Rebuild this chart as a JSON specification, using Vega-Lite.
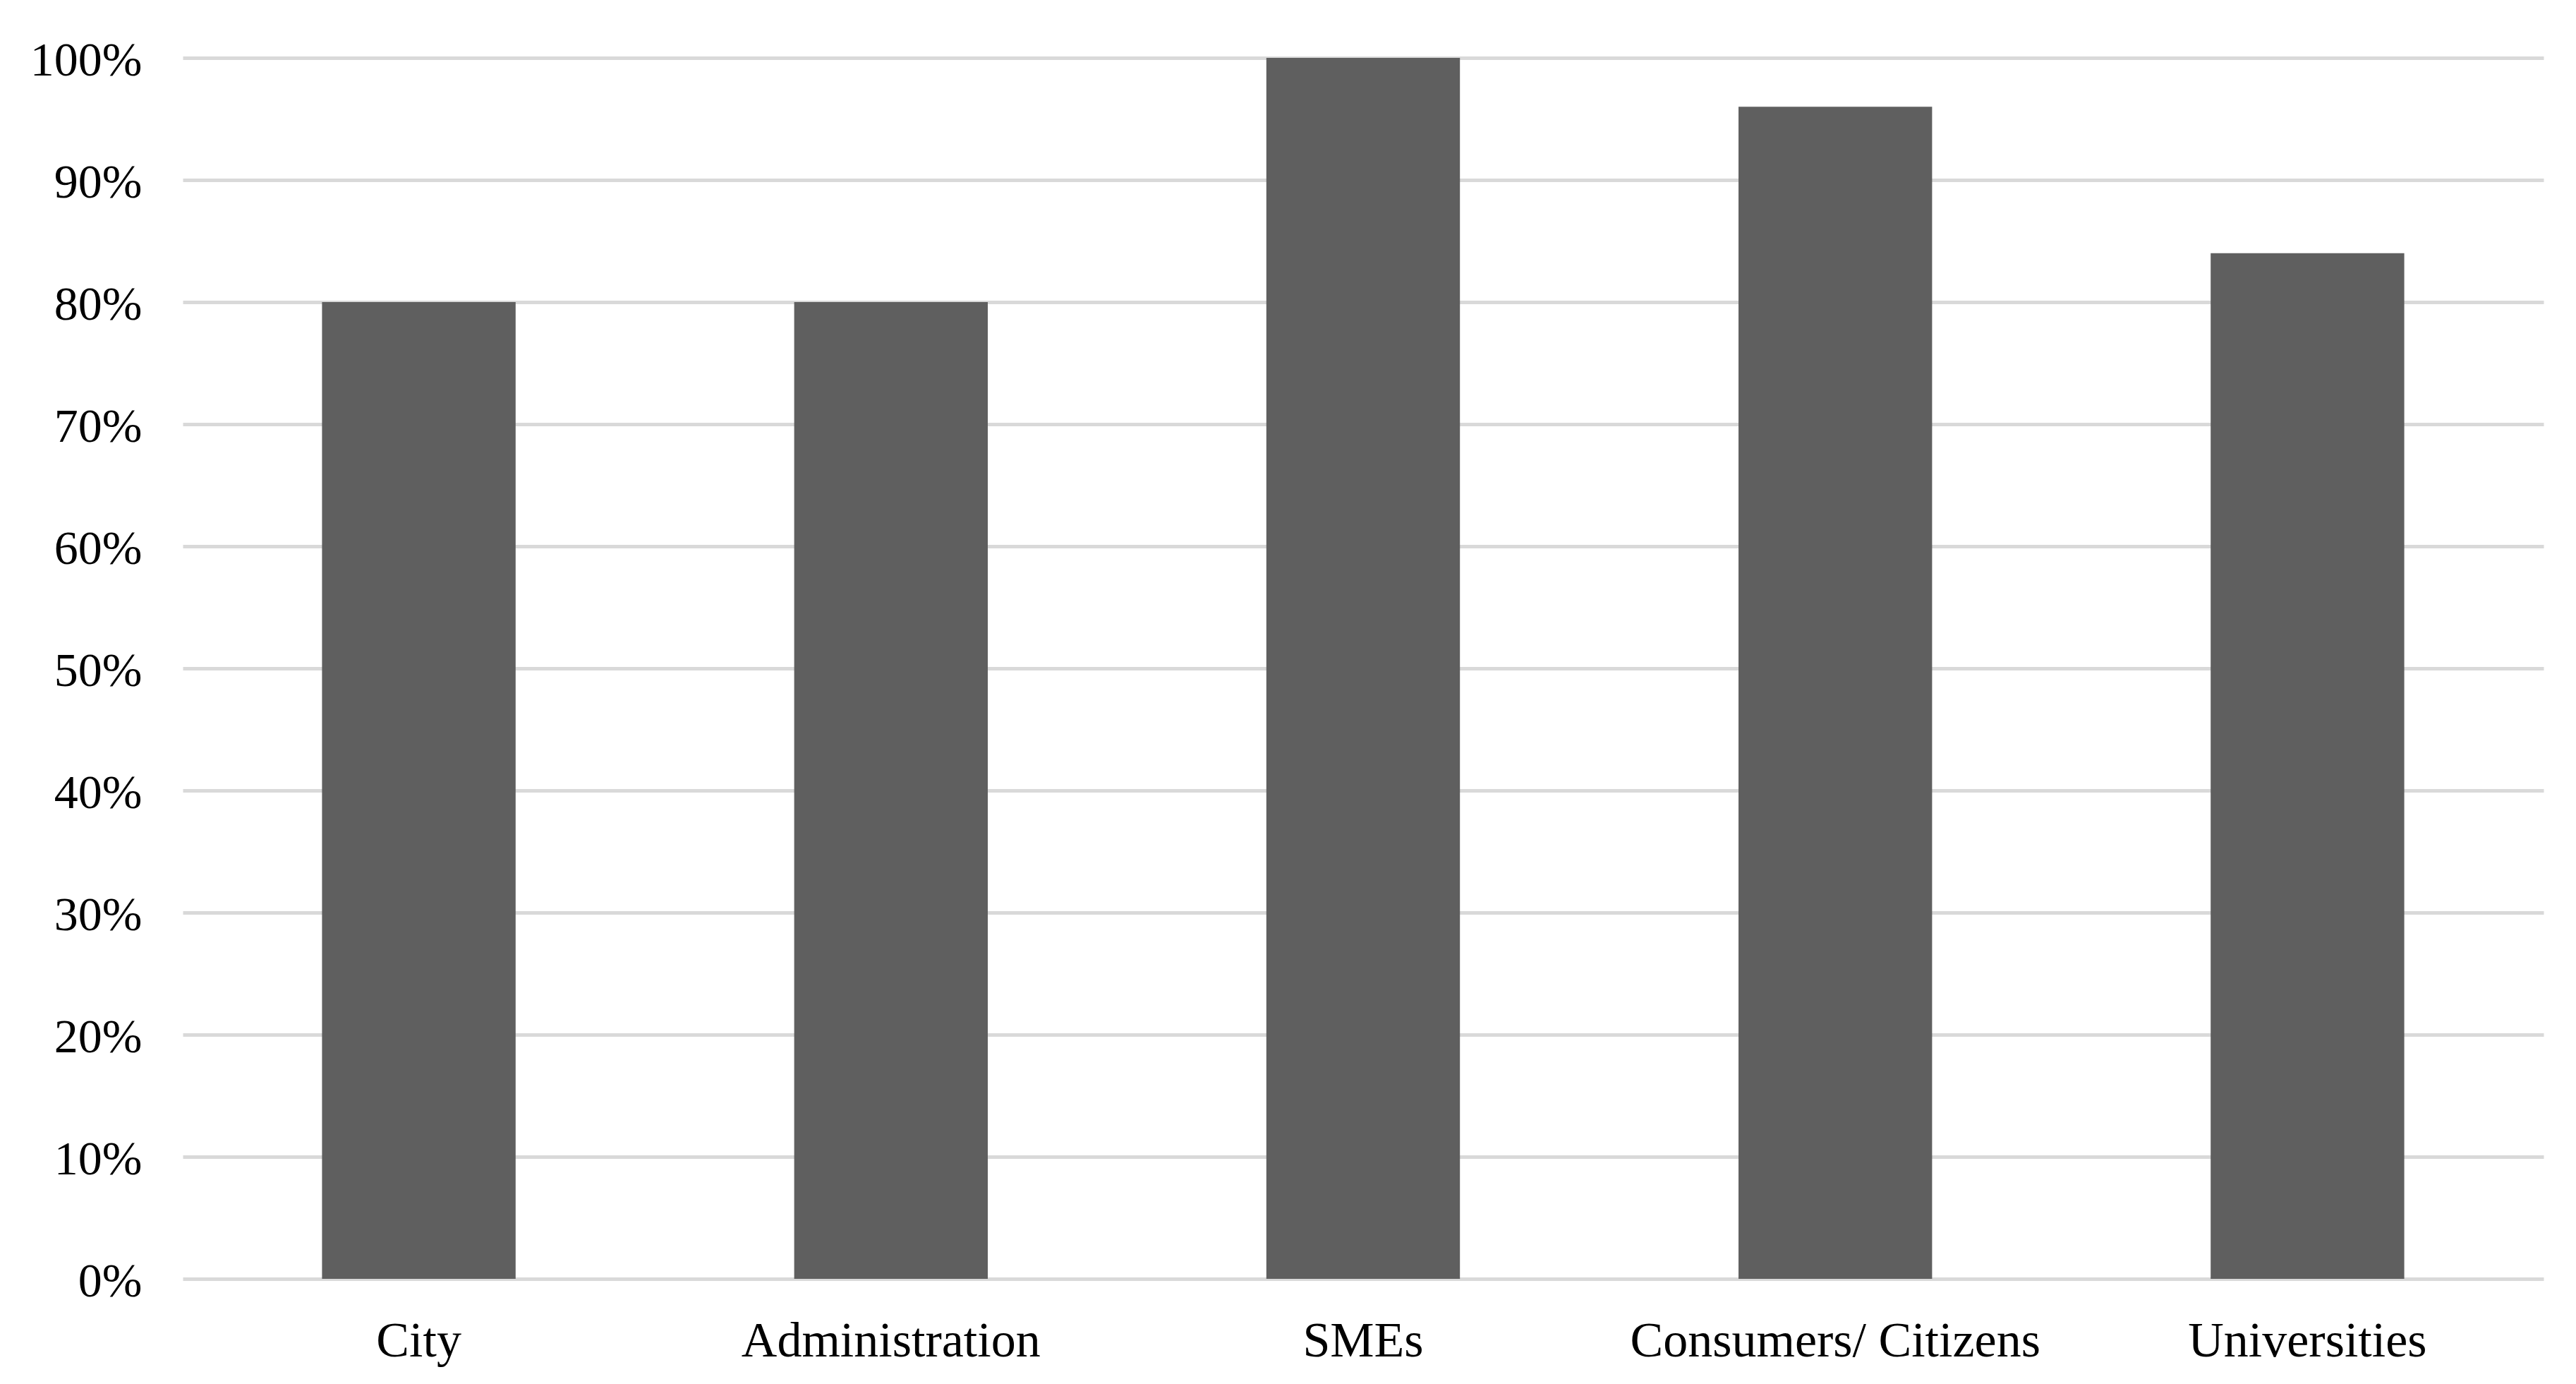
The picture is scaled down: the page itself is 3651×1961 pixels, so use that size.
{
  "$schema": "https://vega.github.io/schema/vega-lite/v6.json",
  "width": 3346,
  "height": 1730,
  "autosize": "none",
  "padding": {"left": 259, "top": 82, "right": 46, "bottom": 149},
  "background": "white",
  "config": {"view": {"stroke": null}},
  "data": {"values": [
    {"category": "City", "share": 0.80},
    {"category": "Administration", "share": 0.80},
    {"category": "SMEs", "share": 1.00},
    {"category": "Consumers/ Citizens", "share": 0.96},
    {"category": "Universities", "share": 0.84}
  ]},
  "mark": {"type": "bar", "color": "#5f5f5f"},
  "encoding": {
    "x": {
      "field": "category", "type": "nominal", "sort": null,
      "scale": {"paddingInner": 0.59, "paddingOuter": 0.295},
      "axis": {"title": null, "labelAngle": 0, "ticks": false, "domain": false,
        "labelFont": "Liberation Serif", "labelFontSize": 70, "labelColor": "#000000",
        "labelPadding": 54, "labelLimit": 0}
    },
    "y": {
      "field": "share", "type": "quantitative",
      "scale": {"domain": [0, 1], "nice": false},
      "axis": {"title": null, "format": ".0%", "values": [0,0.1,0.2,0.3,0.4,0.5,0.6,0.7,0.8,0.9,1],
        "ticks": false, "domain": false, "grid": true, "gridColor": "#d9d9d9", "gridWidth": 5,
        "labelFont": "Liberation Serif", "labelFontSize": 68, "labelColor": "#000000",
        "labelPadding": 58, "labelBaseline": "middle", "labelOffset": 4}
    }
  }
}
